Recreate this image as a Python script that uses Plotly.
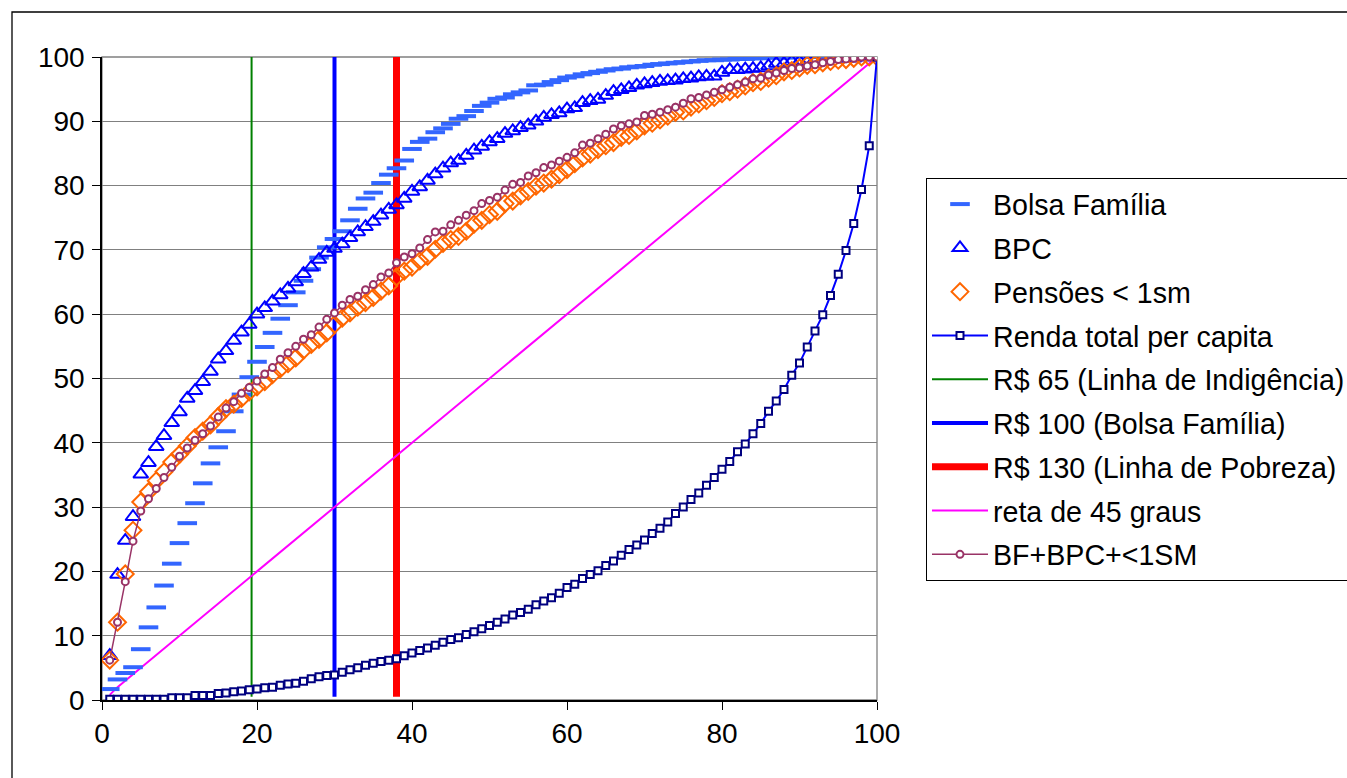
import plotly.graph_objects as go

# ---------------- data ----------------
percentis = list(range(1, 101))

bolsa_familia = [
    1.7, 3.2, 4.2, 5.1, 7.9, 11.3, 14.4, 17.8, 21.2, 24.4,
    27.5, 30.6, 33.7, 36.8, 39.3, 41.8, 44.9, 47.5, 50.2, 52.6,
    54.9, 57.1, 59.3, 61.4, 63.4, 65.2, 67.0, 68.8, 70.4, 71.7,
    72.9, 74.6, 76.4, 78.0, 78.9, 80.4, 81.7, 82.7, 83.9, 85.7,
    86.8, 87.3, 88.3, 88.9, 89.6, 90.4, 90.8, 91.6, 92.4, 92.9,
    93.5, 93.7, 94.2, 94.5, 94.8, 95.6, 95.7, 96.1, 96.4, 96.8,
    97.0, 97.3, 97.5, 97.7, 97.9, 98.1, 98.2, 98.4, 98.5, 98.6,
    98.8, 98.9, 99.0, 99.1, 99.2, 99.3, 99.4, 99.5, 99.5, 99.6,
    99.6, 99.7, 99.7, 99.8, 99.8, 99.9, 99.9, 99.9, 100, 100,
    100, 100, 100, 100, 100, 100, 100, 100, 100, 100,
]

bpc = [
    6.9, 19.5, 24.8, 28.5, 35.1, 36.9, 39.4, 41.1, 43.1, 44.8,
    46.9, 48.1, 49.5, 51.1, 53.0, 54.3, 55.9, 57.2, 58.4, 60.0,
    61.0, 62.0, 63.0, 64.0, 65.0, 66.3, 67.3, 68.5, 69.6, 70.2,
    70.9, 71.9, 72.8, 73.6, 74.4, 75.4, 76.3, 77.0, 78.0, 79.1,
    79.8, 80.8, 81.8, 82.7, 83.5, 83.9, 84.7, 85.5, 86.1, 86.8,
    87.3, 88.1, 88.5, 89.0, 89.4, 90.0, 90.6, 91.0, 91.3, 91.9,
    92.1, 92.9, 93.2, 93.4, 94.0, 94.6, 94.9, 95.2, 95.6, 95.8,
    96.0, 96.2, 96.3, 96.4, 96.6, 96.7, 96.9, 97.0, 97.0, 97.6,
    98.0, 98.0, 98.1, 98.2, 98.3, 98.6, 99.0, 99.0, 99.3, 99.3,
    99.3, 99.6, 99.6, 99.8, 99.8, 99.8, 99.8, 100, 100, 100,
]

pensoes = [
    6.2, 12.1, 19.6, 26.4, 30.8, 32.4, 34.1, 35.5, 37.0, 38.2,
    39.5, 40.8, 41.8, 42.8, 44.1, 45.3, 46.0, 46.9, 47.9, 48.7,
    49.5, 50.6, 51.5, 52.3, 53.2, 54.4, 55.3, 56.1, 57.1, 58.4,
    59.4, 60.2, 61.1, 61.8, 62.6, 63.6, 64.4, 65.8, 66.7, 67.3,
    68.3, 69.0, 70.1, 71.0, 71.6, 72.1, 72.9, 74.0, 74.6, 75.5,
    76.0, 77.2, 77.6, 78.4, 79.1, 79.9, 80.4, 81.0, 81.7, 82.5,
    83.4, 84.3, 84.9, 85.6, 86.2, 86.7, 87.5, 87.8, 88.5, 89.3,
    89.7, 90.2, 90.8, 91.4, 91.6, 92.2, 92.7, 93.2, 93.7, 94.3,
    94.6, 95.0, 95.5, 96.0, 96.2, 96.7, 97.1, 97.7, 97.9, 98.3,
    98.7, 98.8, 99.1, 99.3, 99.5, 99.6, 99.8, 100, 100, 100,
]

renda_total = [
    0.1, 0.1, 0.1, 0.1, 0.1, 0.1, 0.1, 0.1, 0.35, 0.35,
    0.35, 0.7, 0.7, 0.7, 1.0, 1.1, 1.3, 1.4, 1.6, 1.7,
    1.9, 2.0, 2.3, 2.5, 2.6, 2.9, 3.3, 3.6, 3.8, 3.9,
    4.3, 4.7, 5.0, 5.4, 5.7, 6.0, 6.2, 6.4, 6.9, 7.3,
    7.7, 8.1, 8.5, 9.0, 9.4, 9.7, 10.2, 10.6, 11.1, 11.6,
    12.1, 12.6, 13.2, 13.6, 14.1, 14.8, 15.4, 15.9, 16.6, 17.5,
    18.0, 18.9, 19.5, 20.1, 20.9, 21.6, 22.5, 23.4, 24.1, 24.9,
    25.9, 26.7, 27.7, 29.0, 30.0, 31.2, 32.2, 33.4, 34.6, 35.9,
    37.1, 38.6, 39.8, 41.4, 43.0, 44.9, 46.5, 48.3, 50.5, 52.4,
    54.9, 57.4, 59.9, 62.9, 66.2, 69.9, 74.1, 79.4, 86.2, 100,
]

reta_45 = [
    0.8, 2.0, 3.0, 4.0, 5.0, 6.0, 7.0, 8.0, 9.0, 10.0,
    11.0, 12.0, 13.0, 14.0, 15.0, 16.0, 17.0, 18.0, 19.0, 20.0,
    21.0, 22.0, 23.0, 24.0, 25.0, 26.0, 27.0, 28.0, 29.0, 30.0,
    31.0, 32.0, 33.0, 34.0, 35.0, 36.0, 37.0, 38.0, 39.0, 40.0,
    41.0, 42.0, 43.0, 44.0, 45.0, 46.0, 47.0, 48.0, 49.0, 50.0,
    51.0, 52.0, 53.0, 54.0, 55.0, 56.0, 57.0, 58.0, 59.0, 60.0,
    61.0, 62.0, 63.0, 64.0, 65.0, 66.0, 67.0, 68.0, 69.0, 70.0,
    71.0, 72.0, 73.0, 74.0, 75.0, 76.0, 77.0, 78.0, 79.0, 80.0,
    81.0, 82.0, 83.0, 84.0, 85.0, 86.0, 87.0, 88.0, 89.0, 90.0,
    91.0, 92.0, 93.0, 94.0, 95.0, 96.0, 97.0, 98.0, 99.0, 100.0,
]

bf_bpc_sm = [
    6.2, 12.1, 18.4, 24.7, 29.4, 31.3, 32.9, 34.6, 36.2, 37.9,
    39.2, 40.4, 41.4, 42.6, 44.0, 45.4, 46.4, 47.7, 48.6, 49.6,
    50.7, 51.7, 53.0, 54.0, 55.0, 56.1, 56.8, 58.0, 59.2, 60.2,
    61.4, 62.3, 62.8, 63.8, 64.6, 65.8, 66.4, 68.0, 68.9, 69.4,
    70.3, 71.6, 72.8, 72.9, 73.9, 74.6, 75.4, 76.1, 77.2, 77.7,
    78.2, 79.3, 80.2, 80.5, 81.5, 82.0, 82.8, 83.2, 83.8, 84.4,
    85.1, 86.3, 86.6, 87.3, 88.0, 88.8, 89.3, 89.6, 89.9, 90.9,
    91.1, 91.4, 91.8, 92.2, 92.8, 93.5, 93.7, 94.1, 94.5, 94.9,
    95.3, 95.7, 96.1, 96.6, 96.7, 97.2, 97.5, 97.9, 98.2, 98.3,
    98.6, 98.8, 99.1, 99.3, 99.6, 99.7, 99.8, 100, 100, 100,
]

linha_indigencia_x = [19.3, 19.3]
linha_bolsa_x = [30.0, 30.0]
linha_pobreza_x = [38.0, 38.0]
linha_vertical_y = [0.5, 100]

x_ticks = [0, 20, 40, 60, 80, 100]
y_ticks = [0, 10, 20, 30, 40, 50, 60, 70, 80, 90, 100]

# ---------------- figure ----------------
FONT = "Liberation Sans, Arial, sans-serif"
W, H = 1347, 778
ML, MR, MT, MB = 102, 470, 57, 78
PW, PH = W - ML - MR, H - MT - MB

fig = go.Figure()

# vertical reference lines first (markers are drawn over them)
fig.add_trace(go.Scatter(x=linha_indigencia_x, y=linha_vertical_y, mode="lines",
                         name="R$ 65 (Linha de Indigência)", legendrank=5, legendgroup="g5",
                         line=dict(color="#008000", width=2)))
fig.add_trace(go.Scatter(x=linha_bolsa_x, y=linha_vertical_y, mode="lines",
                         name="R$ 100 (Bolsa Família)", legendrank=6, legendgroup="g6",
                         line=dict(color="#0000FF", width=4)))
fig.add_trace(go.Scatter(x=linha_pobreza_x, y=linha_vertical_y, mode="lines",
                         name="R$ 130 (Linha de Pobreza)", legendrank=7, legendgroup="g7",
                         line=dict(color="#FF0000", width=7)))
fig.add_trace(go.Scatter(x=percentis, y=reta_45, mode="lines",
                         name="reta de 45 graus", legendrank=8, legendgroup="g8",
                         line=dict(color="#FF00FF", width=2)))

fig.add_trace(go.Scatter(x=percentis, y=bolsa_familia, mode="markers",
                         name="Bolsa Família", legendrank=1, legendgroup="g1",
                         marker=dict(symbol="line-ew", size=14,
                                     line=dict(color="#3366FF", width=4))))
fig.add_trace(go.Scatter(x=percentis, y=bpc, mode="markers",
                         name="BPC", legendrank=2, legendgroup="g2",
                         marker=dict(symbol="triangle-up-open", size=13, color="#0000FF",
                                     line=dict(color="#0000FF", width=2))))
fig.add_trace(go.Scatter(x=percentis, y=pensoes, mode="markers",
                         name="Pensões < 1sm", legendrank=3, legendgroup="g3",
                         marker=dict(symbol="diamond-open", size=13, color="#FF6600",
                                     line=dict(color="#FF6600", width=2))))
fig.add_trace(go.Scatter(x=percentis, y=renda_total, mode="lines+markers",
                         name="Renda total per capita", legendrank=4, legendgroup="g4",
                         line=dict(color="#0000FF", width=2),
                         marker=dict(symbol="square", size=7, color="white",
                                     line=dict(color="#000080", width=2))))
fig.add_trace(go.Scatter(x=percentis, y=bf_bpc_sm, mode="lines+markers",
                         name="BF+BPC+<1SM", legendrank=9, legendgroup="g9",
                         line=dict(color="#993366", width=1.5),
                         marker=dict(symbol="circle", size=7, color="white",
                                     line=dict(color="#993366", width=2))))

# plot-area border (grey) and outer chart border (black)
fig.add_shape(type="rect", xref="paper", yref="paper", x0=0, x1=1, y0=0, y1=1,
              line=dict(color="#808080", width=1.3), layer="below")
fig.add_shape(type="rect", xref="paper", yref="paper",
              x0=(12 - ML) / PW, x1=(W + 20 - ML) / PW,
              y0=-(MB + 20) / PH, y1=(PH + MT - 12) / PH,
              line=dict(color="black", width=1.3), layer="below")

fig.update_layout(
    width=W, height=H,
    margin=dict(l=ML, r=MR, t=MT, b=MB, autoexpand=False),
    paper_bgcolor="white", plot_bgcolor="white",
    font=dict(family=FONT, size=28, color="black"),
    showlegend=True,
    legend=dict(
        x=(926 - ML) / PW, y=(MT + PH - 178) / PH, xanchor="left", yanchor="top",
        bordercolor="black", borderwidth=1, bgcolor="white",
        font=dict(family=FONT, size=28.6, color="black"),
        traceorder="grouped", tracegroupgap=3.6, itemwidth=56,
    ),
    xaxis=dict(range=[0, 100], tickvals=x_ticks, ticks="outside", ticklen=8,
               tickcolor="black", tickwidth=1.3, showline=True, linecolor="black",
               linewidth=1.5, showgrid=False, zeroline=False,
               tickfont=dict(family=FONT, size=28, color="black")),
    yaxis=dict(range=[0, 100], tickvals=y_ticks, ticks="outside", ticklen=8,
               tickcolor="black", tickwidth=1.3, showline=True, linecolor="black",
               linewidth=1.5, showgrid=True, gridcolor="#808080", gridwidth=1.3,
               zeroline=False, ticklabelstandoff=2,
               tickfont=dict(family=FONT, size=28, color="black")),
)

fig.write_html("out.html")
